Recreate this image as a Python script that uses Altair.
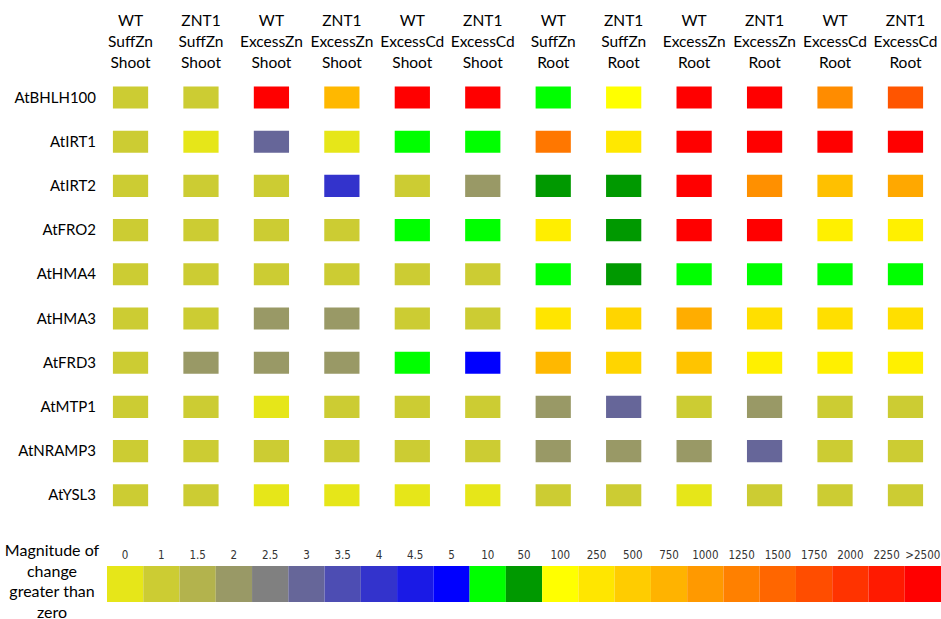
import altair as alt
import pandas as pd

# Genes (rows) and treatment / genotype / tissue combinations (columns)
genes = ["AtBHLH100", "AtIRT1", "AtIRT2", "AtFRO2", "AtHMA4",
         "AtHMA3", "AtFRD3", "AtMTP1", "AtNRAMP3", "AtYSL3"]

conditions = [
    "WT\nSuffZn\nShoot", "ZNT1\nSuffZn\nShoot",
    "WT\nExcessZn\nShoot", "ZNT1\nExcessZn\nShoot",
    "WT\nExcessCd\nShoot", "ZNT1\nExcessCd\nShoot",
    "WT\nSuffZn\nRoot", "ZNT1\nSuffZn\nRoot",
    "WT\nExcessZn\nRoot", "ZNT1\nExcessZn\nRoot",
    "WT\nExcessCd\nRoot", "ZNT1\nExcessCd\nRoot",
]

# Magnitude of change per gene, one value per column above
bhlh100 = [1, 1, 2500, 700, 2500, 2500, 10, 100, 2500, 2500, 1130, 1670]
irt1 = [1, 0, 3, 0, 10, 10, 1340, 240, 2500, 2500, 2500, 2500]
irt2 = [1, 1, 1, 4, 1, 2, 50, 50, 2500, 1090, 620, 855]
fro2 = [1, 1, 1, 1, 10, 10, 200, 50, 2500, 2500, 190, 190]
hma4 = [1, 1, 1, 1, 1, 1, 10, 50, 10, 10, 10, 10]
hma3 = [1, 1, 2, 2, 1, 1, 260, 410, 810, 320, 320, 320]
frd3 = [1, 2, 2, 2, 10, 5, 700, 410, 580, 190, 190, 190]
mtp1 = [1, 1, 0, 1, 1, 1, 2, 3, 1, 2, 1, 1]
nramp3 = [1, 1, 1, 1, 1, 1, 2, 2, 2, 3, 1, 1]
ysl3 = [1, 1, 0, 0, 0, 0, 1, 1, 0, 1, 1, 1]

gene_values = [bhlh100, irt1, irt2, fro2, hma4, hma3, frd3, mtp1, nramp3, ysl3]

# Colour key: stops, their labels and colours
legend_labels = ["0", "1", "1.5", "2", "2.5", "3", "3.5", "4", "4.5", "5",
                 "10", "50", "100", "250", "500", "750", "1000", "1250",
                 "1500", "1750", "2000", "2250", ">2500"]
legend_stops = [0, 1, 1.5, 2, 2.5, 3, 3.5, 4, 4.5, 5, 10, 50, 100, 250, 500,
                750, 1000, 1250, 1500, 1750, 2000, 2250, 2500]
legend_colors = ["#E6E619", "#CCCC33", "#B3B34D", "#999966", "#808080",
                 "#666699", "#4D4DB3", "#3333CC", "#1A1AE6", "#0000FF",
                 "#00FF00", "#009900", "#FFFF00", "#FFE600", "#FFCC00",
                 "#FFB300", "#FF9900", "#FF8000", "#FF6600", "#FF4D00",
                 "#FF3300", "#FF1A00", "#FF0000"]

FONT = "Lato"
NARROW = "'Liberation Sans Narrow', 'DejaVu Sans Condensed', 'Liberation Sans', sans-serif"

cells = pd.DataFrame(
    [{"gene": g, "condition": c, "magnitude": v}
     for g, vals in zip(genes, gene_values)
     for c, v in zip(conditions, vals)]
)
cond_df = pd.DataFrame({"condition": conditions})
gene_df = pd.DataFrame({"gene": genes})
key_df = pd.DataFrame({"label": legend_labels, "stop": legend_stops})
title_df = pd.DataFrame({"t": ["Magnitude of\nchange\ngreater than\nzero"]})

color_scale = alt.Scale(domain=legend_stops, range=legend_colors,
                        interpolate="rgb", clamp=True)

x_cond = alt.X("condition:N", sort=conditions, axis=None,
               scale=alt.Scale(domain=conditions, range=[95.3, 940.7],
                               paddingInner=0.5, paddingOuter=0.25))
y_gene = alt.Y("gene:N", sort=genes, axis=None,
               scale=alt.Scale(domain=genes, range=[75.4, 517.4],
                               paddingInner=0.5, paddingOuter=0.25))

tiles = alt.Chart(cells).mark_rect().encode(
    x=x_cond, y=y_gene,
    color=alt.Color("magnitude:Q", scale=color_scale, legend=None),
)

# Three-line column headers; the first line sits at the given y
headers = alt.Chart(cond_df).mark_text(
    font=FONT, fontSize=15.5, lineBreak="\n", lineHeight=21,
    baseline="middle", align="center", color="#000000",
).encode(x=x_cond, y=alt.value(21), text="condition:N")

row_labels = alt.Chart(gene_df).mark_text(
    font=FONT, fontSize=15, baseline="middle", align="right", color="#000000",
).encode(y=y_gene, x=alt.value(96), text="gene:N")

heat = alt.layer(tiles, headers, row_labels)

x_key = alt.X("label:N", sort=legend_labels, axis=None,
              scale=alt.Scale(domain=legend_labels, range=[107, 941],
                              paddingInner=0, paddingOuter=0))

key_bar = alt.Chart(key_df).mark_rect().encode(
    x=x_key, y=alt.value(566), y2=alt.value(602),
    color=alt.Color("stop:Q", scale=color_scale, legend=None),
)

key_text = alt.Chart(key_df).mark_text(
    font=NARROW, fontSize=11.5, baseline="middle", align="center",
    color="#333333",
).encode(x=x_key, y=alt.value(556), text="label:N")

key_title = alt.Chart(title_df).mark_text(
    font=FONT, fontSize=16, lineBreak="\n", lineHeight=20.5,
    baseline="middle", align="center", color="#000000",
).encode(x=alt.value(52), y=alt.value(551), text="t:N")

key = alt.layer(key_bar, key_text, key_title)

chart = alt.layer(heat, key).resolve_scale(
    x="independent", y="independent"
).properties(
    width=941, height=619, padding=0, autosize="none", background="white"
).configure_view(stroke=None)

chart.save("out.html", embed_options={"renderer": "svg", "actions": False})
